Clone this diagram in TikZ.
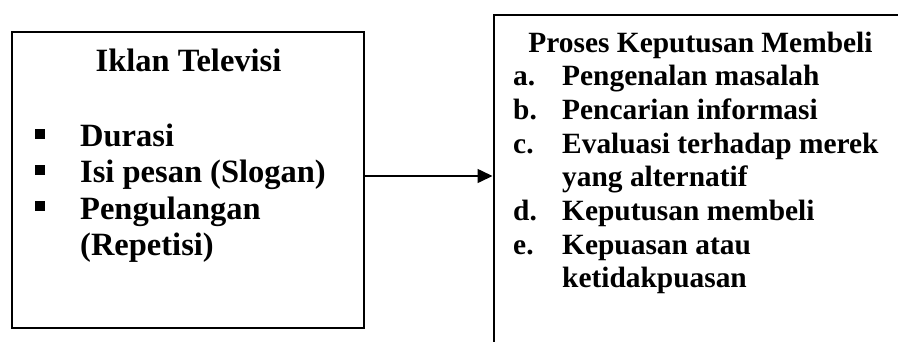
\documentclass[tikz,border=0pt]{standalone}
\usepackage{fontspec}
\setmainfont{Liberation Serif}
\usetikzlibrary{arrows.meta}
\begin{document}
\begin{tikzpicture}[x=1pt,y=-1pt,
  frame/.style={draw=black,line width=2pt,rectangle,inner sep=0pt},
  txt/.style={anchor=base west,inner sep=0pt,font=\bfseries\fontsize{29.4}{34}\selectfont},
  big/.style={anchor=base west,inner sep=0pt,font=\bfseries\fontsize{32.5}{36}\selectfont},
  bul/.style={fill=black,minimum size=10pt,inner sep=0pt,rectangle},
  link/.style={line width=1.6pt,-{Triangle[length=15pt,width=14pt]}}]
\useasboundingbox (0,0) rectangle (898,341);
\clip (0,0) rectangle (898,341);
% left box: advertising factors
\node[frame,minimum width=352pt,minimum height=296pt] (tv) at (188,180) {};
\node[big,anchor=base] (tvtitle) at (188.5,71) {Iklan Televisi};
\node[bul] (b1) at (40,134) {};
\node[big] (l1) at (80,146) {Durasi};
\node[bul] (b2) at (40,170) {};
\node[big] (l2) at (80,182.5) {Isi pesan (Slogan)};
\node[bul] (b3) at (40,206) {};
\node[big] (l3) at (80,219) {Pengulangan};
\node[big] (l4) at (80,255) {(Repetisi)};
% right box: purchase decision process (runs past the page edge)
\node[frame,minimum width=430pt,minimum height=360pt,anchor=north west] (kp) at (492.5,13.5) {};
\node[txt,anchor=base] (kptitle) at (700.5,52) {Proses Keputusan Membeli};
\node[txt] (ka) at (513,85) {a.};
\node[txt] (ta) at (562,85) {Pengenalan masalah};
\node[txt] (kb) at (513,119) {b.};
\node[txt] (tb) at (562,119) {Pencarian informasi};
\node[txt] (kc) at (513,153) {c.};
\node[txt] (tc) at (562,153) {Evaluasi terhadap merek};
\node[txt] (tc2) at (562,186) {yang alternatif};
\node[txt] (kd) at (513,220) {d.};
\node[txt] (td) at (562,220) {Keputusan membeli};
\node[txt] (ke) at (513,254) {e.};
\node[txt] (te) at (562,254) {Kepuasan atau};
\node[txt] (te2) at (562,287) {ketidakpuasan};
% connector, slightly above the middle of the left box
\coordinate (src) at ([yshift=4pt]tv.east);
\draw[link] (src) -- (src -| kp.west);
\end{tikzpicture}
\end{document}
